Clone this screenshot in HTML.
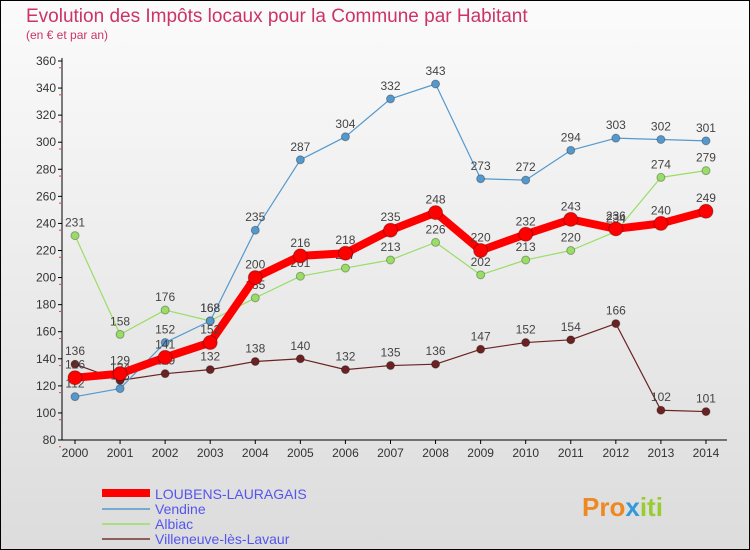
<!DOCTYPE html>
<html><head><meta charset="utf-8"><style>
body{margin:0;width:750px;height:550px;overflow:hidden;font-family:"Liberation Sans",sans-serif}
#wrap{position:absolute;left:0;top:0;width:748px;height:548px;border:1px solid #000;background:linear-gradient(#fbfbfb,#dcdcdc)}
</style></head><body>
<div id="wrap">
<svg id="c" width="750" height="550" style="position:absolute;left:-1px;top:-1px">
<text x="26" y="22" font-size="19" fill="#cc3366">Evolution des Impôts locaux pour la Commune par Habitant</text>
<text x="26" y="39" font-size="12" fill="#cc3366">(en € et par an)</text>
<g id="axes"></g><g id="series"></g>
<g>
<line x1="102" y1="493" x2="150" y2="493" stroke="#ff0000" stroke-width="8"/>
<text x="155" y="499" font-size="14" fill="#5555ee">LOUBENS-LAURAGAIS</text>
<line x1="102" y1="509" x2="150" y2="509" stroke="#5599cc" stroke-width="1.5"/>
<text x="155" y="514" font-size="14" fill="#5555ee">Vendine</text>
<line x1="102" y1="524" x2="150" y2="524" stroke="#99dd66" stroke-width="1.5"/>
<text x="155" y="529" font-size="14" fill="#5555ee">Albiac</text>
<line x1="102" y1="539" x2="150" y2="539" stroke="#773333" stroke-width="1.5"/>
<text x="155" y="544" font-size="14" fill="#5555ee">Villeneuve-lès-Lavaur</text>
</g>
<text x="582" y="516" font-size="26" font-weight="bold" fill="#ee8822">Pro<tspan fill="#3399dd">x</tspan><tspan fill="#99cc33">iti</tspan></text>
</svg></div>
<script>
const years=[2000,2001,2002,2003,2004,2005,2006,2007,2008,2009,2010,2011,2012,2013,2014];
const yTicks=[80,100,120,140,160,180,200,220,240,260,280,300,320,340,360];
const loubens=[126,129,141,152,200,216,218,235,248,220,232,243,236,240,249];
const vendine=[112,118,152,168,235,287,304,332,343,273,272,294,303,302,301];
const albiac=[231,158,176,168,185,201,207,213,226,202,213,220,234,274,279];
const villeneuve=[136,124,129,132,138,140,132,135,136,147,152,154,166,102,101];
const NS="http://www.w3.org/2000/svg";
const X=i=>75+i*45.07, Y=v=>440-(v-80)*1.3536;
function mk(t,a,p){const e=document.createElementNS(NS,t);for(const k in a)e.setAttribute(k,a[k]);p.appendChild(e);return e;}
const ax=document.getElementById('axes'), sg=document.getElementById('series');
let l=mk('line',{x1:62,y1:58,x2:62,y2:440,stroke:'#000'},ax);


l=mk('line',{x1:62,y1:440,x2:727,y2:440,stroke:'#000'},ax);


yTicks.forEach(v=>{
 mk('line',{x1:58,y1:Y(v),x2:62,y2:Y(v),stroke:'#000'},ax);
 mk('line',{x1:59,y1:Y(v)+6.77,x2:61,y2:Y(v)+6.77,stroke:'#f33'},ax);
 const t=mk('text',{x:56,y:Y(v)+4,'font-size':12,'text-anchor':'end',fill:'#333'},ax);t.textContent=v;
 
 
});
years.forEach((yr,i)=>{
 mk('line',{x1:X(i),y1:440,x2:X(i),y2:444,stroke:'#000'},ax);
 const t=mk('text',{x:X(i),y:457,'font-size':12,'text-anchor':'middle',fill:'#333'},ax);t.textContent=yr;
 
 
});
function series(d,col,w,r,name){
 const g=mk('g',{},sg);
 
 
 mk('polyline',{points:d.map((v,i)=>X(i)+','+Y(v)).join(' '),fill:'none',stroke:col,'stroke-width':w,'stroke-linejoin':'round'},g);
 d.forEach((v,i)=>{
  const c=mk('circle',{cx:X(i),cy:Y(v),r:r,fill:col,stroke:'rgba(0,0,0,0.3)'},g);
  
  
  const t=mk('text',{x:X(i),y:Y(v)-9,'font-size':12,'text-anchor':'middle',fill:'#444'},g);t.textContent=v;
  
  
 });
}
series(villeneuve,'#6b2222',1.2,4,'villeneuve');
series(albiac,'#99dd66',1.2,4,'albiac');
series(vendine,'#5599cc',1.2,4,'vendine');
series(loubens,'#ff0000',8,7,'loubens');
</script>
</body></html>
